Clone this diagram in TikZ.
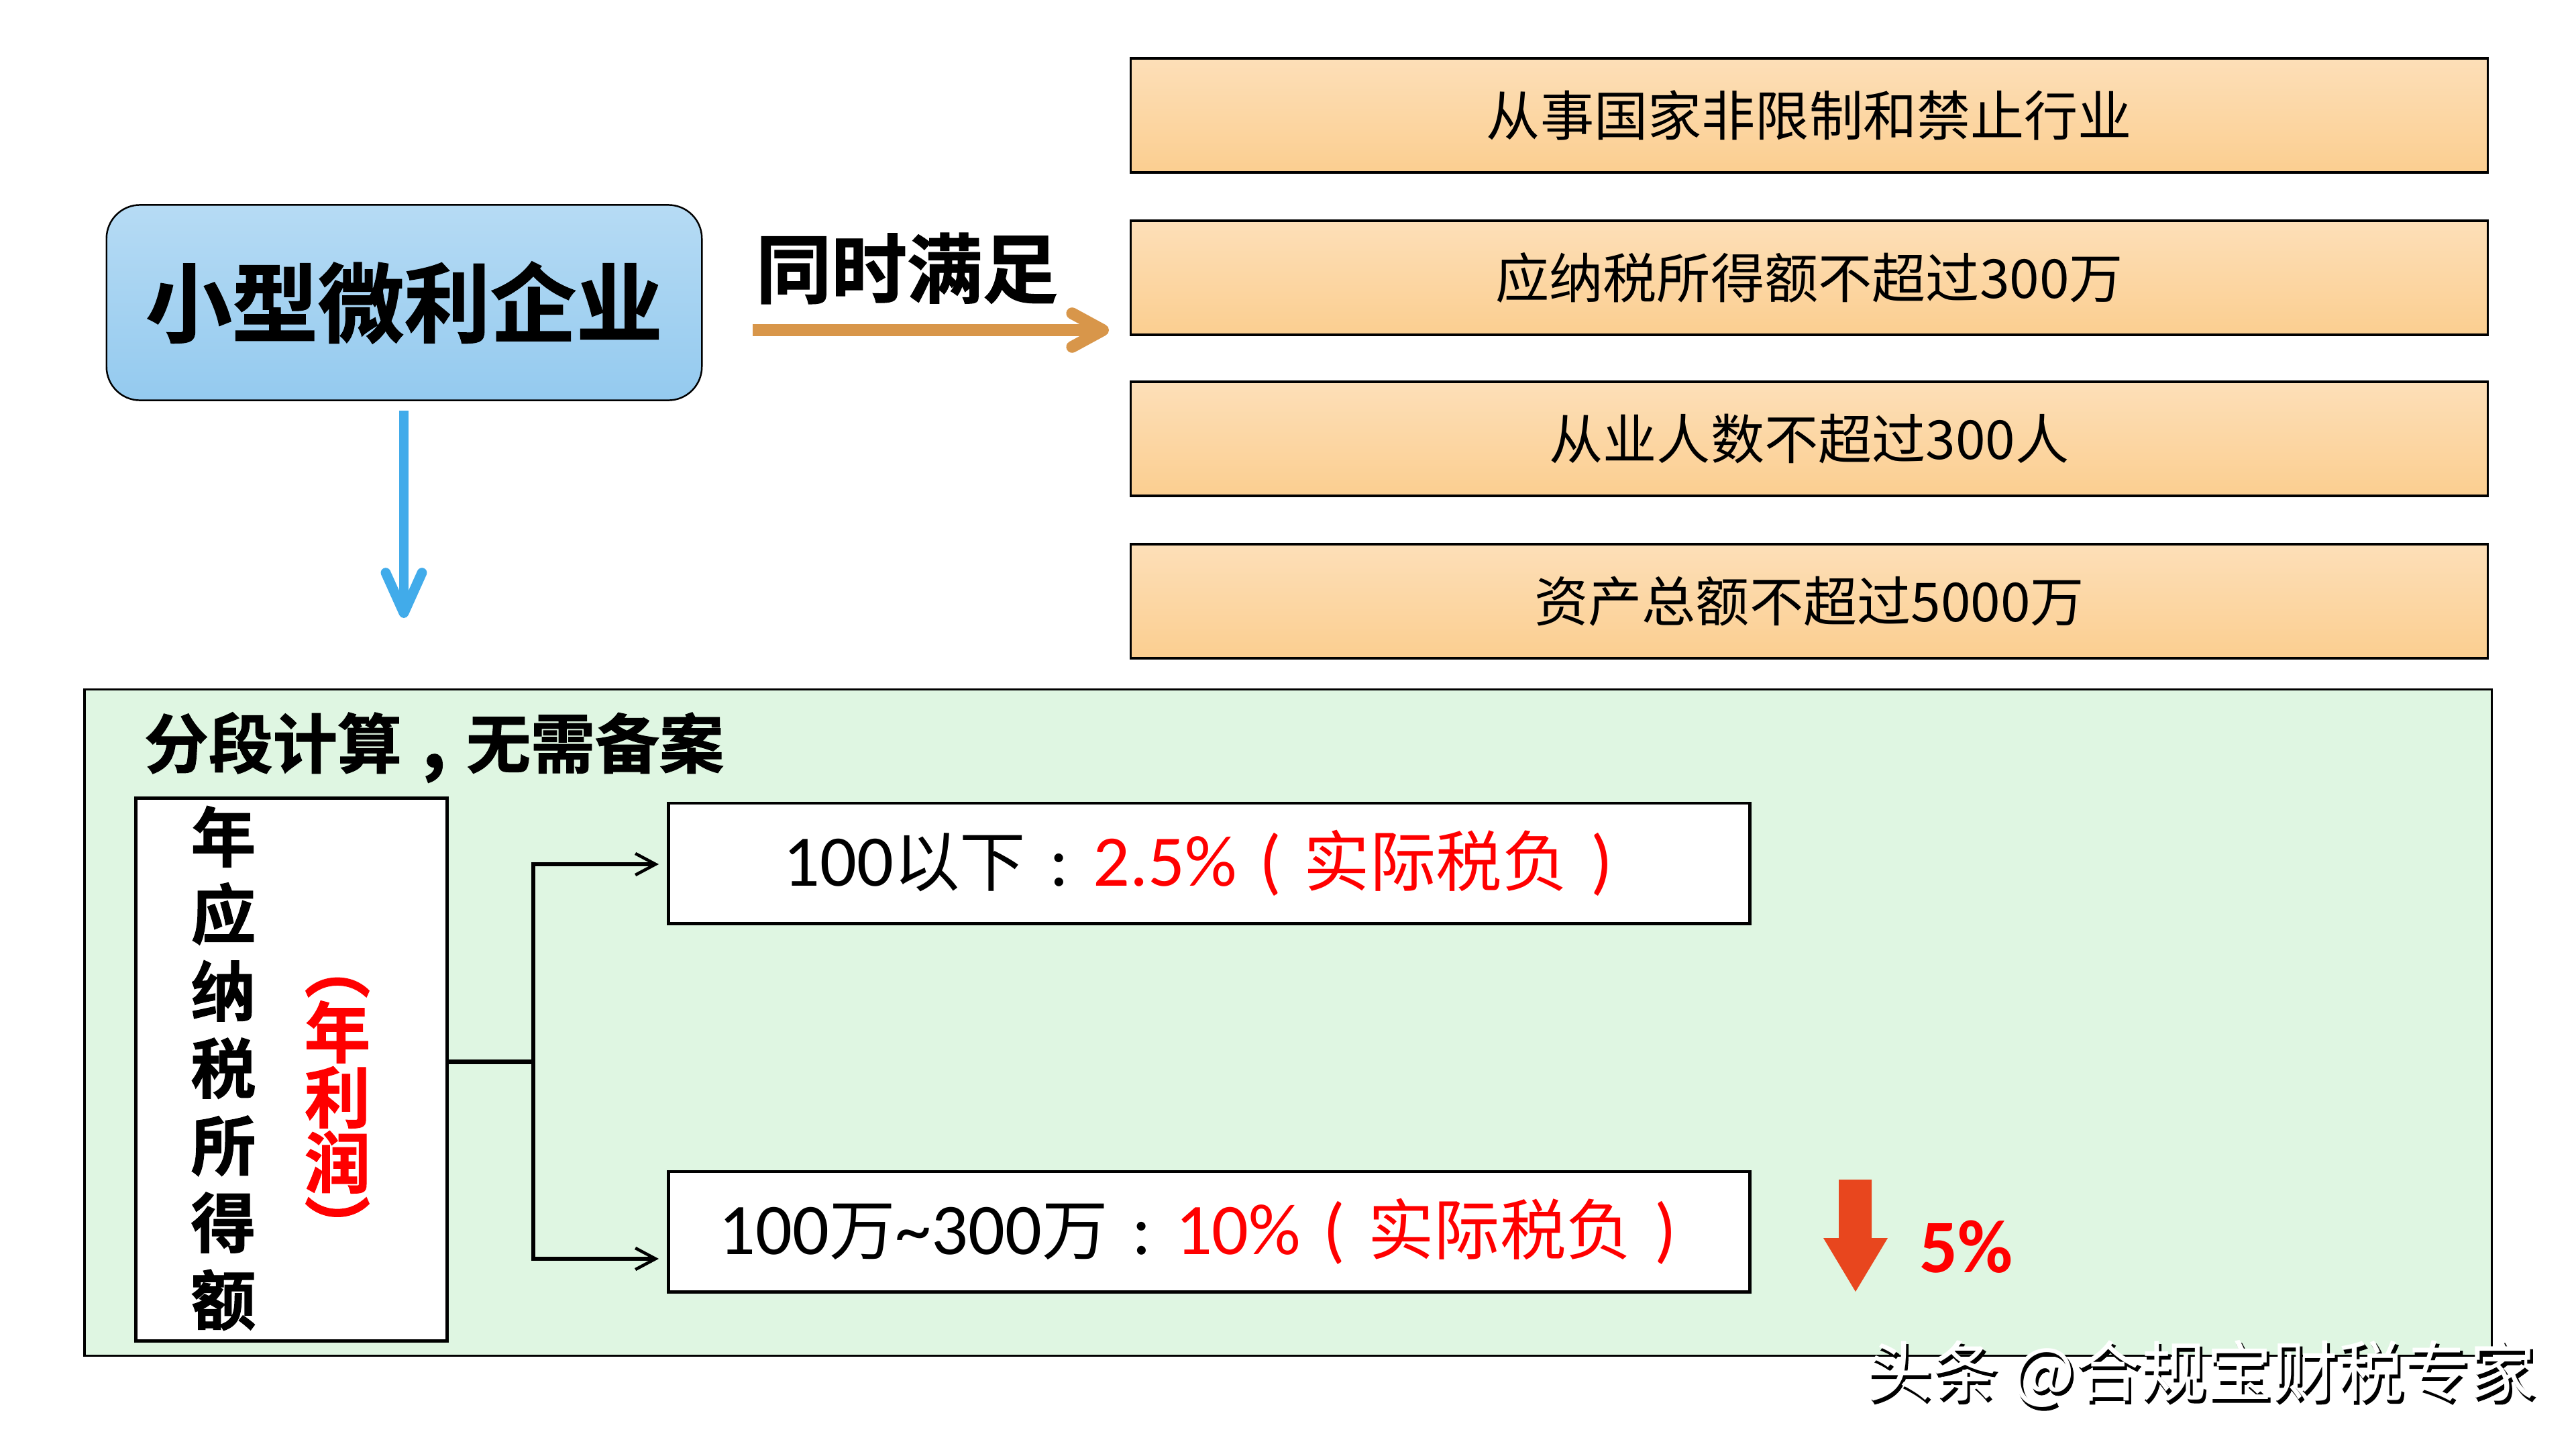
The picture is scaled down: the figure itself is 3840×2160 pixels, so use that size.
\documentclass[tikz,border=0pt]{standalone}
\usepackage{fontspec}
\usetikzlibrary{arrows.meta}
\setmainfont{Carlito}
\newfontfamily\cjk{Noto Sans CJK SC}
\newfontfamily\cjkb[FakeBold=1.2]{Noto Sans CJK SC Bold}
\newfontfamily\cjkw[FakeBold=1.2]{Noto Sans CJK SC}
\newcommand{\hz}[1]{{\fontsize{28pt}{32pt}\cjk #1}}
\newcommand{\gapc}[1]{\makebox[1cm][c]{#1}}
\definecolor{bluetop}{HTML}{B6DBF4}
\definecolor{bluebot}{HTML}{94CAEF}
\definecolor{orangetop}{HTML}{FDDFB8}
\definecolor{orangebot}{HTML}{FBCE90}
\definecolor{greenbg}{HTML}{DFF6E2}
\definecolor{arrorange}{HTML}{D8964A}
\definecolor{arrblue}{HTML}{41ABEA}
\definecolor{arrred}{HTML}{E8461E}
\tikzset{
  x=0.01cm,y=-0.01cm,
  orangebox/.style={draw=black,line width=0.9pt,top color=orangetop,bottom color=orangebot,minimum width=20.22cm,minimum height=1.70cm,inner sep=0,font=\fontsize{22.8pt}{27pt}\cjk},
  ratebox/.style={draw=black,line width=1.4pt,fill=white,minimum width=16.11cm,minimum height=1.79cm,inner sep=0,font=\fontsize{30.8pt}{36pt}\selectfont},
  link/.style={black,line width=1.5pt},
  linkarrow/.style={link,-{Straight Barb[length=0.30cm,width=0.32cm,line width=1.3pt]}},
}
\begin{document}
\begin{tikzpicture}
\useasboundingbox (0,0) rectangle (3840,2160);
\fill[white] (0,0) rectangle (3840,2160);
\node[draw=black,line width=0.9pt,fill=greenbg,minimum width=35.86cm,minimum height=9.92cm,inner sep=0] (panel) at (1920,1524) {};
\node[draw=black,line width=0.7pt,rounded corners=0.5cm,top color=bluetop,bottom color=bluebot,minimum width=8.87cm,minimum height=2.91cm,inner sep=0,font=\fontsize{36.5pt}{40pt}\cjkb] (firm) at (602.5,451) {小型微利企业};
\node[orangebox] (c1) at (2697,172) {从事国家非限制和禁止行业};
\node[orangebox] (c2) at (2697,414) {应纳税所得额不超过300万};
\node[orangebox] (c3) at (2697,654) {从业人数不超过300人};
\node[orangebox] (c4) at (2697,896) {资产总额不超过5000万};
\node[inner sep=0,font=\fontsize{32pt}{36pt}\cjkb] (both) at (1352,400) {同时满足};
\coordinate (oa) at (1122,492);
\coordinate (ob) at (1653,492);
\draw[arrorange,line width=5pt,-{Straight Barb[length=0.46cm,width=0.50cm,line width=5pt,round]}] (oa) -- (ob);
\coordinate (ba) at (602,612);
\coordinate (bb) at (602,921);
\draw[arrblue,line width=4.2pt,-{Straight Barb[length=0.60cm,width=0.54cm,line width=4.2pt,round]}] (ba) -- (bb);
\node[inner sep=0,font=\fontsize{27.3pt}{32pt}\cjkb] (sec) at (647,1114) {分段计算\makebox[0.96cm][c]{\bfseries\fontsize{28pt}{28pt}\selectfont ,}无需备案};
\node[draw=black,line width=1.4pt,fill=white,minimum width=4.63cm,minimum height=8.08cm,inner sep=0] (tax) at (434.5,1594) {};
\node[inner sep=0,align=center,font=\fontsize{27.5pt}{32.7pt}\cjkb] (taxt) at (333,1592) {年\\应\\纳\\税\\所\\得\\额};
\node[inner sep=0,align=center,text=red,font=\fontsize{28pt}{27.6pt}\cjkb] (prof) at (503,1662) {︵\\年\\利\\润\\︶};
\node[ratebox] (r1) at (1802.5,1286.5) {100\hz{以下}\gapc{:}\textcolor{red}{2.5\%\gapc{(}\hz{实际税负}\gapc{)}}};
\node[ratebox] (r2) at (1802.5,1835.5) {100\hz{万}\textasciitilde 300\hz{万}\gapc{:}\textcolor{red}{10\%\gapc{(}\hz{实际税负}\gapc{)}}};
\coordinate (j) at (795,1582);
\coordinate (r1in) at (982,1288);
\coordinate (r2in) at (982,1876);
\draw[link,line width=2pt] (tax.east |- j) -- (j);
\draw[linkarrow] (j) |- (r1in);
\draw[linkarrow] (j) |- (r2in);
\fill[arrred] (2741,1758) -- (2790,1758) -- (2790,1845) -- (2814,1845) -- (2766,1925) -- (2718,1845) -- (2741,1845) -- cycle;
\node[inner sep=0,text=red,font=\fontsize{32pt}{36pt}\bfseries] (five) at (2931,1858) {5\%};
\node[inner sep=0,text=black,font=\fontsize{27.9pt}{34pt}\cjkw] (wms) at (3284,2052) {头条 @合规宝财税专家};
\node[inner sep=0,text=white,font=\fontsize{27.9pt}{34pt}\cjk] (wm) at (3281,2047) {头条 @合规宝财税专家};
\end{tikzpicture}
\end{document}
